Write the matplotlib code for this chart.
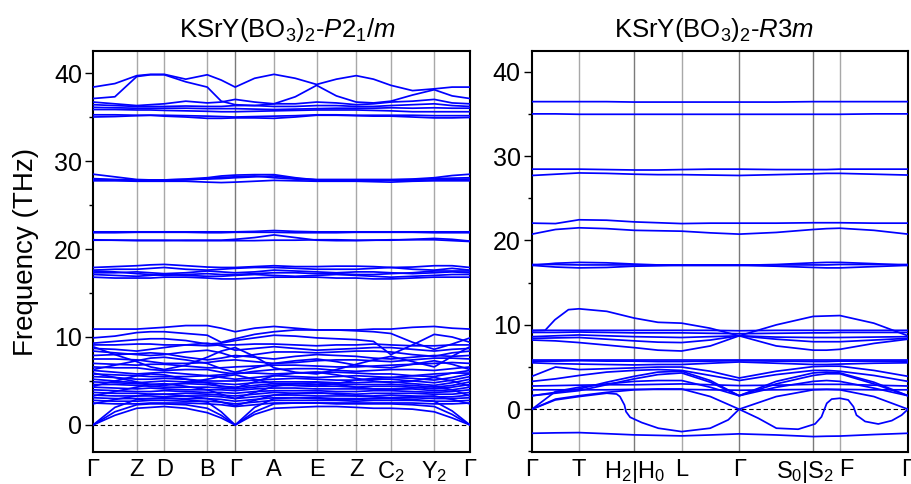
import numpy as np
import matplotlib
matplotlib.use("Agg")
import matplotlib.pyplot as plt
from matplotlib.ticker import MultipleLocator
from matplotlib.transforms import ScaledTranslation

plt.rcParams['font.family'] = ['Liberation Sans', 'DejaVu Sans']
plt.rcParams['mathtext.fontset'] = 'custom'
plt.rcParams['mathtext.rm'] = 'Liberation Sans'
plt.rcParams['mathtext.it'] = 'Liberation Sans:italic'

# ---------------- P2_1/m data ----------------
# high-symmetry points along the path (fraction of path length)
k_p21m = [0.0, 0.116, 0.189, 0.303, 0.377, 0.480, 0.593, 0.698, 0.790, 0.905, 1.0]
labels_p21m = ["Γ", "Z", "D", "B", "Γ", "A", "E", "Z", "C$_2$", "Y$_2$", "Γ"]

# band values at every high-symmetry point and at the middle of each segment (THz)
p21m_top = [
    [38.4, 38.8, 39.7, 39.85, 39.85, 39.3, 39.8, 39.2, 38.4, 39.4, 39.85, 39.4, 38.7, 39.3, 39.7, 39.3, 38.6, 38.0, 38.2, 38.4, 38.4],
    [37.1, 37.3, 39.6, 39.8, 39.8, 39.0, 38.4, 36.8, 36.4, 36.3, 36.5, 37.3, 38.6, 37.4, 36.7, 36.6, 36.8, 37.5, 38.1, 37.4, 37.1],
    [36.7, 36.5, 36.3, 36.4, 36.5, 36.8, 36.6, 36.7, 37.0, 36.7, 36.5, 36.5, 36.7, 36.6, 36.4, 36.5, 36.7, 36.8, 37.0, 36.6, 36.5],
    [36.4, 36.3, 36.2, 36.2, 36.2, 36.25, 36.2, 36.2, 36.3, 36.3, 36.2, 36.2, 36.3, 36.3, 36.2, 36.2, 36.3, 36.4, 36.5, 36.3, 36.2],
    [36.1, 36.05, 36.0, 36.0, 36.0, 36.0, 35.95, 35.95, 35.95, 35.9, 35.85, 35.9, 35.95, 36.0, 36.0, 36.0, 36.05, 36.0, 36.05, 36.0, 36.0],
    [35.85, 35.85, 35.8, 35.8, 35.75, 35.7, 35.65, 35.6, 35.6, 35.65, 35.7, 35.75, 35.8, 35.8, 35.8, 35.75, 35.7, 35.6, 35.6, 35.6, 35.6],
    [35.0, 35.05, 35.15, 35.2, 35.1, 35.0, 34.85, 34.85, 34.9, 34.9, 34.85, 35.0, 35.2, 35.2, 35.15, 35.1, 35.1, 35.0, 34.9, 34.9, 34.95],
    [35.25, 35.25, 35.2, 35.2, 35.2, 35.15, 35.1, 35.05, 35.0, 35.05, 35.1, 35.15, 35.25, 35.25, 35.2, 35.2, 35.2, 35.2, 35.15, 35.15, 35.15],
]
p21m_mid = [
    [28.5, 28.2, 27.9, 27.85, 27.85, 27.95, 28.1, 28.3, 28.4, 28.45, 28.45, 28.1, 27.85, 27.85, 27.85, 27.8, 27.85, 27.95, 28.1, 28.35, 28.5],
    [28.0, 27.9, 27.85, 27.85, 27.85, 27.9, 27.95, 28.0, 28.1, 28.2, 28.3, 28.0, 27.9, 27.9, 27.9, 27.9, 27.9, 27.9, 28.0, 28.05, 28.1],
    [27.75, 27.75, 27.7, 27.7, 27.7, 27.7, 27.6, 27.55, 27.6, 27.7, 27.8, 27.75, 27.7, 27.7, 27.7, 27.65, 27.6, 27.7, 27.75, 27.75, 27.75],
    [27.9, 27.85, 27.8, 27.8, 27.8, 27.85, 28.0, 28.15, 28.2, 28.3, 28.1, 27.95, 27.8, 27.8, 27.8, 27.85, 27.8, 27.8, 27.85, 27.9, 27.95],
    [21.95, 21.95, 21.95, 21.95, 21.95, 21.95, 21.95, 21.95, 21.95, 22.0, 22.1, 22.0, 21.95, 21.95, 21.95, 21.95, 21.95, 21.95, 21.95, 21.95, 21.95],
    [21.85, 21.85, 21.9, 21.9, 21.9, 21.9, 21.85, 21.85, 21.9, 21.9, 21.9, 21.85, 21.85, 21.85, 21.9, 21.9, 21.9, 21.9, 21.85, 21.85, 21.85],
    [21.05, 21.0, 20.95, 20.95, 20.95, 21.0, 21.0, 21.0, 21.1, 21.3, 21.6, 21.3, 21.0, 20.95, 20.95, 21.0, 21.0, 21.1, 21.2, 21.1, 20.9],
    [21.0, 21.0, 21.0, 21.0, 21.0, 20.95, 20.95, 20.95, 20.95, 20.95, 21.0, 21.0, 21.05, 21.05, 21.0, 21.0, 21.05, 21.05, 21.05, 20.95, 20.85],
    [17.9, 18.0, 18.1, 18.2, 18.25, 18.1, 17.95, 17.9, 17.9, 18.0, 18.1, 18.0, 18.0, 18.05, 18.05, 18.0, 17.9, 17.95, 18.1, 18.1, 17.9],
    [17.6, 17.7, 17.7, 17.8, 17.9, 17.7, 17.6, 17.7, 17.8, 17.9, 17.9, 17.8, 17.7, 17.7, 17.7, 17.8, 17.9, 17.7, 17.6, 17.8, 17.6],
    [17.5, 17.4, 17.2, 17.1, 17.0, 17.1, 17.2, 17.1, 17.1, 17.2, 17.3, 17.3, 17.2, 17.2, 17.1, 17.1, 17.2, 17.3, 17.5, 17.5, 17.5],
    [17.3, 17.3, 17.4, 17.3, 17.2, 17.3, 17.5, 17.4, 17.3, 17.4, 17.6, 17.5, 17.4, 17.3, 17.4, 17.4, 17.3, 17.2, 17.3, 17.4, 17.3],
    [17.1, 17.0, 16.9, 17.0, 17.1, 17.0, 16.9, 16.9, 17.0, 17.1, 17.0, 16.9, 17.0, 17.1, 17.0, 16.9, 16.8, 16.9, 17.0, 17.1, 17.1],
    [16.8, 16.7, 16.7, 16.7, 16.8, 16.8, 16.7, 16.6, 16.6, 16.7, 16.8, 16.8, 16.8, 16.7, 16.7, 16.6, 16.6, 16.7, 16.8, 16.8, 16.8],
]
p21m_low = [
    [10.9, 10.9, 10.9, 11.0, 11.1, 11.3, 11.3, 11.0, 10.6, 11.0, 11.2, 11.0, 10.8, 10.8, 10.8, 10.9, 10.9, 11.1, 11.2, 11.0, 10.9],
    [9.9, 10.1, 10.5, 10.6, 10.6, 10.4, 10.2, 9.4, 9.8, 10.3, 10.6, 10.8, 10.8, 10.8, 10.7, 10.6, 10.4, 9.4, 8.6, 9.2, 9.9],
    [9.3, 9.5, 9.7, 9.8, 9.8, 9.6, 9.2, 9.3, 9.6, 9.9, 10.2, 10.1, 9.9, 9.8, 9.7, 9.5, 8.0, 9.1, 10.3, 10.0, 9.4],
    [9.1, 9.1, 9.2, 9.2, 9.1, 9.1, 9.0, 9.1, 9.1, 9.2, 9.2, 9.1, 9.0, 9.1, 9.1, 9.2, 9.1, 9.0, 9.0, 9.1, 9.1],
    [8.7, 8.6, 8.4, 8.6, 8.8, 9.1, 9.3, 9.0, 8.5, 8.7, 8.9, 8.7, 8.5, 8.6, 8.7, 8.8, 8.8, 8.6, 8.4, 8.6, 8.7],
    [8.4, 8.2, 8.0, 7.9, 8.0, 8.3, 8.5, 8.2, 7.7, 8.0, 8.3, 8.3, 8.2, 8.3, 8.4, 8.4, 8.3, 8.0, 7.8, 8.2, 8.4],
    [7.9, 8.0, 8.1, 8.2, 8.1, 7.7, 7.4, 7.6, 7.9, 7.7, 7.5, 7.8, 8.0, 7.9, 7.8, 7.6, 7.5, 7.7, 7.9, 7.8, 7.9],
    [7.5, 7.5, 7.4, 7.2, 7.0, 7.0, 7.1, 7.3, 7.4, 7.2, 7.0, 7.1, 7.3, 7.4, 7.4, 7.3, 7.2, 7.4, 7.6, 7.6, 7.5],
    [7.0, 6.9, 6.8, 6.9, 6.9, 6.7, 6.5, 6.5, 6.6, 6.7, 6.8, 6.8, 6.7, 6.6, 6.6, 6.7, 6.8, 6.9, 7.0, 7.1, 7.0],
    [6.6, 6.5, 6.5, 6.3, 6.2, 6.3, 6.3, 6.0, 5.8, 6.1, 6.3, 6.4, 6.4, 6.2, 6.1, 6.2, 6.3, 6.3, 6.2, 6.4, 6.6],
    [6.2, 6.0, 5.8, 5.9, 6.0, 5.8, 5.6, 5.7, 5.9, 5.9, 5.8, 5.9, 6.0, 6.0, 5.9, 5.8, 5.8, 5.6, 5.5, 5.9, 6.2],
    [5.8, 5.7, 5.6, 5.5, 5.5, 5.5, 5.6, 5.4, 5.2, 5.4, 5.6, 5.5, 5.4, 5.5, 5.6, 5.5, 5.4, 5.3, 5.1, 5.4, 5.8],
    [5.5, 5.4, 5.2, 5.2, 5.3, 5.2, 5.0, 5.0, 5.0, 5.1, 5.2, 5.3, 5.2, 5.1, 5.1, 5.2, 5.2, 5.0, 4.8, 5.1, 5.5],
    [5.2, 5.0, 4.8, 4.9, 5.0, 4.9, 4.8, 4.7, 4.6, 4.8, 4.9, 4.9, 4.9, 4.8, 4.8, 4.9, 4.9, 4.7, 4.5, 4.8, 5.2],
    [4.9, 4.8, 4.7, 4.6, 4.6, 4.7, 4.6, 4.4, 4.3, 4.5, 4.7, 4.7, 4.6, 4.6, 4.6, 4.6, 4.6, 4.5, 4.3, 4.5, 4.9],
    [4.6, 4.6, 4.5, 4.4, 4.3, 4.3, 4.3, 4.2, 4.1, 4.3, 4.5, 4.5, 4.4, 4.4, 4.3, 4.4, 4.4, 4.3, 4.1, 4.3, 4.6],
    [4.3, 4.2, 4.1, 4.2, 4.1, 4.0, 4.0, 4.0, 3.9, 4.1, 4.2, 4.2, 4.1, 4.1, 4.1, 4.1, 4.1, 4.1, 3.9, 4.0, 4.3],
    [4.0, 3.9, 3.8, 3.8, 3.9, 3.8, 3.7, 3.7, 3.6, 3.8, 3.9, 3.9, 3.9, 3.8, 3.8, 3.9, 3.9, 3.8, 3.7, 3.8, 4.0],
    [3.7, 3.6, 3.6, 3.5, 3.5, 3.6, 3.5, 3.4, 3.3, 3.5, 3.7, 3.6, 3.6, 3.6, 3.5, 3.6, 3.6, 3.6, 3.5, 3.5, 3.7],
    [3.4, 3.3, 3.3, 3.3, 3.2, 3.3, 3.3, 3.2, 3.0, 3.2, 3.4, 3.4, 3.3, 3.3, 3.3, 3.3, 3.4, 3.3, 3.2, 3.2, 3.4],
    [3.1, 3.0, 3.0, 3.0, 3.0, 3.0, 3.0, 2.9, 2.7, 2.9, 3.1, 3.1, 3.1, 3.0, 3.0, 3.0, 3.1, 3.1, 3.0, 3.0, 3.1],
    [2.8, 2.7, 2.7, 2.8, 2.8, 2.7, 2.7, 2.6, 2.4, 2.6, 2.8, 2.8, 2.8, 2.8, 2.7, 2.8, 2.8, 2.8, 2.7, 2.7, 2.8],
    [2.5, 2.4, 2.4, 2.5, 2.5, 2.5, 2.4, 2.3, 2.1, 2.3, 2.5, 2.5, 2.5, 2.5, 2.5, 2.5, 2.5, 2.5, 2.4, 2.4, 2.5],
    [8.9, 8.0, 7.2, 6.6, 6.3, 6.8, 7.7, 8.4, 8.8, 7.8, 6.5, 6.0, 5.8, 6.3, 6.9, 7.4, 7.8, 7.2, 6.6, 7.8, 8.9],
    [6.3, 6.8, 7.3, 7.6, 7.7, 7.4, 7.0, 6.4, 6.0, 6.5, 7.0, 7.3, 7.5, 7.2, 6.8, 6.6, 6.5, 6.9, 7.3, 6.9, 6.3],
    [4.4, 5.0, 5.6, 5.8, 5.7, 5.2, 4.8, 4.4, 4.2, 4.9, 5.6, 5.9, 6.0, 5.7, 5.3, 5.0, 4.8, 5.0, 5.4, 5.0, 4.4],
    [3.3, 3.8, 4.3, 4.6, 4.7, 4.4, 4.0, 3.5, 3.0, 3.7, 4.4, 4.7, 4.8, 4.6, 4.3, 4.1, 4.0, 4.2, 4.4, 4.0, 3.3],
    [5.9, 5.4, 4.9, 4.6, 4.5, 4.8, 5.2, 5.5, 5.7, 5.2, 4.7, 4.5, 4.4, 4.7, 5.1, 5.3, 5.4, 5.6, 5.8, 5.9, 5.9],
    [2.4, 2.9, 3.3, 3.5, 3.5, 3.3, 3.0, 2.6, 2.2, 2.8, 3.4, 3.6, 3.7, 3.5, 3.3, 3.2, 3.1, 3.2, 3.3, 2.9, 2.4],
    # acoustic branches
    [0.0, 1.1, 1.9, 2.0, 2.1, 1.9, 1.4, 0.8, 0.0, 1.2, 1.9, 2.0, 2.1, 2.1, 2.0, 1.9, 1.9, 1.8, 1.5, 0.8, 0.0],
    [0.0, 1.5, 2.3, 2.4, 2.4, 2.3, 1.9, 1.1, 0.0, 1.5, 2.4, 2.5, 2.5, 2.4, 2.4, 2.4, 2.4, 2.3, 2.1, 1.2, 0.0],
    [0.0, 2.0, 2.9, 3.0, 3.1, 2.9, 2.6, 1.5, 0.0, 2.0, 3.0, 3.1, 3.0, 2.9, 2.9, 3.0, 3.0, 2.9, 2.7, 1.6, 0.0],
]

# ---------------- R3m data ----------------
k_r3m = [0.0, 0.125, 0.272, 0.398, 0.551, 0.748, 0.819, 1.0]
labels_r3m = ["Γ", "T", "H$_2$|H$_0$", "L", "Γ", "S$_0$|S$_2$", "F", "Γ"]

r3m_bands = [
    [36.45, 36.45, 36.45, 36.45, 36.4, 36.4, 36.4, 36.4, 36.4, 36.4, 36.45, 36.45, 36.45, 36.45, 36.45],
    [35.0, 35.0, 34.95, 34.95, 34.95, 34.95, 34.95, 34.95, 34.95, 34.95, 34.95, 34.95, 34.95, 35.0, 35.0],
    [28.45, 28.45, 28.45, 28.4, 28.35, 28.35, 28.4, 28.45, 28.45, 28.4, 28.4, 28.4, 28.45, 28.45, 28.45],
    [27.7, 27.85, 28.0, 27.95, 27.85, 27.8, 27.8, 27.75, 27.7, 27.8, 27.9, 27.95, 27.95, 27.85, 27.75],
    [22.05, 22.0, 22.45, 22.4, 22.2, 22.1, 22.0, 22.05, 22.05, 22.05, 22.1, 22.1, 22.1, 22.05, 22.05],
    [20.75, 21.3, 21.5, 21.4, 21.2, 21.15, 21.1, 20.9, 20.75, 20.95, 21.3, 21.4, 21.45, 21.2, 20.75],
    [17.05, 17.3, 17.4, 17.35, 17.2, 17.1, 17.05, 17.05, 17.05, 17.15, 17.35, 17.4, 17.4, 17.25, 17.05],
    [17.05, 16.85, 16.75, 16.8, 16.95, 17.0, 17.05, 17.05, 17.05, 16.95, 16.8, 16.75, 16.75, 16.9, 17.05],
    [17.15, 17.15, 17.1, 17.1, 17.1, 17.1, 17.1, 17.1, 17.1, 17.1, 17.1, 17.1, 17.15, 17.15, 17.15],
    [9.35, 9.35, 9.35, 9.35, 9.35, 9.35, 9.35, 9.35, 9.3, 9.35, 9.35, 9.35, 9.35, 9.35, 9.35],
    [9.1, 9.1, 9.15, 9.1, 9.05, 9.05, 9.05, 9.0, 8.95, 9.0, 9.05, 9.05, 9.1, 9.1, 9.1],
    [8.6, 8.7, 8.8, 8.7, 8.6, 8.55, 8.5, 8.6, 8.7, 8.55, 8.5, 8.5, 8.5, 8.55, 8.6],
    [8.4, 8.45, 8.5, 8.3, 8.1, 7.95, 7.9, 8.2, 8.7, 8.3, 8.0, 8.0, 8.0, 8.2, 8.4],
    [8.2, 8.1, 7.9, 7.6, 7.3, 7.0, 6.9, 7.5, 8.7, 7.5, 7.0, 7.0, 7.1, 7.8, 8.3],
    [5.85, 5.85, 5.85, 5.85, 5.85, 5.85, 5.85, 5.85, 5.85, 5.85, 5.85, 5.85, 5.85, 5.85, 5.85],
    [5.7, 5.7, 5.75, 5.7, 5.7, 5.65, 5.65, 5.7, 5.75, 5.7, 5.65, 5.65, 5.7, 5.7, 5.7],
    [5.5, 5.4, 5.35, 5.3, 5.25, 5.3, 5.3, 5.45, 5.6, 5.45, 5.3, 5.3, 5.35, 5.45, 5.5],
    [3.9, 5.0, 4.7, 4.8, 4.9, 5.0, 5.0, 4.5, 3.7, 4.5, 5.05, 5.1, 5.1, 4.6, 3.9],
    [3.3, 3.6, 4.0, 4.4, 4.6, 4.7, 4.6, 4.0, 3.4, 4.1, 4.6, 4.6, 4.5, 4.0, 3.3],
    [2.75, 2.8, 2.85, 2.9, 2.9, 2.95, 3.0, 2.9, 2.8, 2.85, 2.95, 2.95, 2.95, 2.85, 2.75],
    [2.3, 2.3, 2.3, 2.3, 2.35, 2.35, 2.35, 2.3, 2.25, 2.3, 2.35, 2.35, 2.35, 2.3, 2.3],
    [1.6, 1.9, 2.2, 2.9, 3.6, 4.1, 4.3, 3.2, 1.6, 3.0, 4.0, 4.2, 4.2, 3.0, 1.6],
    [1.6, 2.0, 2.4, 3.2, 3.9, 4.4, 4.5, 3.4, 1.6, 3.3, 4.3, 4.4, 4.3, 3.2, 1.6],
    [0.0, 2.1, 2.6, 3.0, 3.3, 3.4, 3.4, 2.6, 1.6, 2.6, 3.3, 3.4, 3.3, 2.5, 1.6],
    [0.0, 1.2, 1.6, 2.0, 2.3, 2.4, 2.4, 1.5, 0.0, 1.5, 2.3, 2.35, 2.3, 1.5, 0.0],
    [-2.85, -2.8, -2.77, -2.9, -3.04, -3.1, -3.16, -3.05, -2.92, -3.05, -3.24, -3.2, -3.18, -3.0, -2.85],
]

# highest optical branch of the low group, sampled on its own k points
r3m_top_k = [0.0, 0.035, 0.061, 0.097, 0.125, 0.199, 0.272, 0.335, 0.398, 0.474, 0.551,
             0.650, 0.748, 0.819, 0.909, 1.0]
r3m_top_f = [9.3, 9.35, 10.6, 11.8, 11.9, 11.6, 10.8, 10.3, 10.2, 9.6, 8.7,
             10.0, 11.0, 11.1, 10.2, 8.7]

# the soft (imaginary) branch, sampled on its own k points
r3m_soft_k = [0.0, 0.062, 0.125, 0.199, 0.225, 0.234, 0.246, 0.250, 0.261, 0.292, 0.336, 0.398,
              0.474, 0.522, 0.551, 0.602, 0.650, 0.708, 0.753, 0.770, 0.777, 0.784, 0.797, 0.819,
              0.841, 0.855, 0.863, 0.886, 0.921, 0.957, 0.983, 1.0]
r3m_soft_f = [0.0, 1.1, 1.5, 1.9, 1.8, 1.5, 0.5, -0.28, -0.95, -1.58, -2.25, -2.65,
              -2.25, -1.26, 0.0, -1.07, -2.25, -2.37, -1.74, -0.9, -0.1, 0.7, 1.2, 1.3,
              1.1, 0.3, -0.7, -1.45, -1.75, -1.35, -0.7, 0.0]

blue = '#0000ff'


def sample_points(k):
    k = np.asarray(k)
    mids = (k[:-1] + k[1:]) / 2
    return np.sort(np.concatenate([k, mids]))


def setup_axes(ax, k, labels, ylim, dark):
    for i, x in enumerate(k[1:-1], start=1):
        col = '#7a7a7a' if i in dark else '#a8a8a8'
        ax.axvline(x, color=col, lw=1.0, zorder=1)
    ax.axhline(0, color='black', lw=0.8, ls=(0, (4, 2.5)), zorder=1)
    ax.set_xlim(0, 1)
    ax.set_ylim(*ylim)
    ax.set_xticks(k)
    ax.set_xticklabels(labels)
    ax.tick_params(axis='x', length=0, pad=5, labelsize=17)
    ax.yaxis.set_major_locator(MultipleLocator(10))
    ax.yaxis.set_minor_locator(MultipleLocator(5))
    ax.tick_params(axis='y', which='major', direction='out', length=6, width=1.0, labelsize=18, pad=2)
    ax.tick_params(axis='y', which='minor', direction='out', length=3, width=1.0)
    ax.tick_params(right=False, top=False)
    for s in ax.spines.values():
        s.set_linewidth(1.5)


def nudge(label, dx_px):
    label.set_transform(label.get_transform() + ScaledTranslation(dx_px / 100, 0, fig.dpi_scale_trans))


fig = plt.figure(figsize=(9.12, 4.84), dpi=100)
ax1 = fig.add_axes([0.102, 0.0661, 0.4134, 0.8285])
ax2 = fig.add_axes([0.5833, 0.0661, 0.4123, 0.8285])

kk = sample_points(k_p21m)
for band in p21m_top + p21m_mid + p21m_low:
    ax1.plot(kk, band, color=blue, lw=1.25, zorder=3)
setup_axes(ax1, k_p21m, labels_p21m, (-3.07, 42.5), dark=[4])
ax1.set_title(r"KSrY(BO$_3$)$_2$-$P$2$_1$/$m$", fontsize=18.5, pad=10, x=0.516)
ax1.set_ylabel("Frequency (THz)", fontsize=20, labelpad=11)

kk = sample_points(k_r3m)
for band in r3m_bands:
    ax2.plot(kk, band, color=blue, lw=1.25, zorder=3)
ax2.plot(r3m_top_k, r3m_top_f, color=blue, lw=1.25, zorder=3)
ax2.plot(r3m_soft_k, r3m_soft_f, color=blue, lw=1.25, zorder=3)
setup_axes(ax2, k_r3m, labels_r3m, (-5.07, 42.45), dark=[2, 4, 5])
ax2.set_title(r"KSrY(BO$_3$)$_2$-$R$3$m$", fontsize=18.5, pad=10, x=0.484)

xl = ax2.get_xticklabels()
nudge(xl[5], -8)
nudge(xl[6], 6)

fig.savefig("out.png", dpi=100)
